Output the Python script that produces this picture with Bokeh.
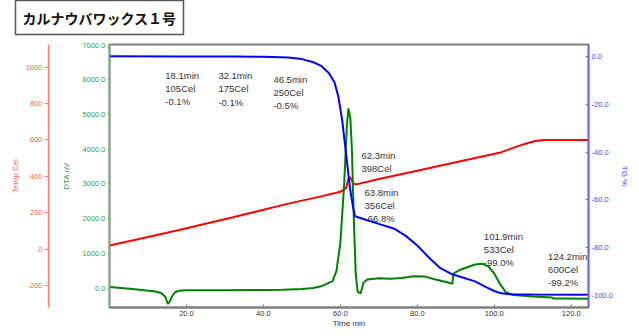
from bokeh.plotting import figure
from bokeh.models import LinearAxis, Range1d, FixedTicker, NumeralTickFormatter, Title
from bokeh.core.properties import value
from bokeh.embed import file_html
from bokeh.resources import INLINE

title_text = "カルナウバワックス１号"

# Temperature (Cel) vs time (min)
time_temp = [0, 10, 18.1, 32.1, 46.5, 55, 60, 61.5, 62.0, 62.3, 62.8, 63.3, 63.8, 65, 70, 80, 90, 101.9, 106, 109, 111, 113, 124.5]
temp_cel = [20, 67, 105, 175, 250, 290, 315, 335, 380, 398, 385, 365, 356, 360, 385, 431, 478, 533, 565, 585, 596, 600, 600]

# DTA (uV) vs time (min)
time_dta = [0, 3, 6, 9, 12, 13.5, 14.5, 15.2, 15.6, 16.2, 17, 18, 20, 30, 40, 45, 50, 53, 55, 57, 58, 59, 60, 61, 61.7, 62.1, 62.6, 63.0, 63.5, 64.0, 64.5, 65.3, 66, 67, 70, 73, 76, 79, 82, 85, 88, 89.1, 89.4, 91, 93, 95, 97, 98.5, 100, 101.5, 103, 105, 110, 115, 115.3, 119, 124.5]
dta_uv = [30, 0, -30, -60, -100, -150, -250, -460, -400, -250, -120, -80, -65, -60, -55, -50, -30, 0, 50, 150, 200, 500, 1300, 3000, 4700, 5180, 4900, 4000, 2000, 400, -100, -150, 150, 250, 280, 270, 290, 340, 330, 240, 160, 120, 420, 520, 600, 680, 700, 620, 420, 120, -120, -200, -240, -270, -300, -300, -305]

# TG (%) vs time (min)
time_tg = [0, 18.1, 32.1, 40, 46.5, 50, 53, 55, 57, 58.5, 59.5, 60.5, 61.5, 62.5, 63.3, 63.8, 67, 70, 74, 77, 80, 83, 86, 89, 92, 95, 98, 100, 101.9, 104, 110, 124.5]
tg_pct = [0, -0.1, -0.1, -0.2, -0.5, -1.2, -2.5, -4, -7, -11, -17, -27, -41, -55, -63, -66.8, -68.5, -70, -72, -75, -79, -84, -88.5, -91, -92.5, -94, -96.5, -98, -99.0, -99.4, -99.5, -99.6]

# Peak annotations
ann_time = [18.1, 32.1, 46.5, 62.3, 63.8, 101.9, 124.2]
ann_temp = [105, 175, 250, 398, 356, 533, 600]
ann_tg = [-0.1, -0.1, -0.5, None, -66.8, -99.0, -99.2]

x_ticks = [20, 40, 60, 80, 100, 120]
dta_ticks = [0, 1000, 2000, 3000, 4000, 5000, 6000, 7000]
temp_ticks = [-200, 0, 200, 400, 600, 800, 1000]
tg_ticks = [0, -20, -40, -60, -80, -100]

# label anchor positions (time, DTA units) - layout only
ann_pos_x = [14.5, 28.3, 42.6, 65.5, 66.3, 97.3, 114.0]
ann_pos_y = [6299, 6279, 6184, 3992, 2925, 1656, 1079]

texts = []
for t, T, g in zip(ann_time, ann_temp, ann_tg):
    s = f"{t:.1f}min\n{T}Cel"
    if g is not None:
        s += f"\n{g:.1f}%"
    texts.append(s)

FONT = "Liberation Sans"

p = figure(width=639, height=336, output_backend="svg", toolbar_location=None, title=None,
           x_range=Range1d(0, 124.5), y_range=Range1d(-560, 7020),
           min_border_left=109, min_border_right=51, min_border_top=44, min_border_bottom=29)
p.extra_y_ranges = {"temp": Range1d(-321, 1125), "tg": Range1d(-104.9, 4.9)}
p.xgrid.visible = False
p.ygrid.visible = False
p.outline_line_color = "#808080"
p.outline_line_width = 2
p.background_fill_color = "white"
p.border_fill_color = "white"

# x axis
xa = p.xaxis[0]
xa.ticker = FixedTicker(ticks=x_ticks)
xa.formatter = NumeralTickFormatter(format="0.0")
xa.axis_line_color = "#808080"
xa.axis_line_width = 2
xa.major_tick_in = 3
xa.major_tick_out = 0
xa.major_tick_line_color = "#808080"
xa.minor_tick_line_color = None
xa.major_label_text_color = "#333333"
xa.major_label_text_font = FONT
xa.major_label_text_font_size = "7.5px"
xa.major_label_standoff = 3
xa.axis_label = "Time min"
xa.axis_label_text_color = "#333333"
xa.axis_label_text_font = FONT
xa.axis_label_text_font_size = "8px"
xa.axis_label_text_font_style = "normal"
xa.axis_label_standoff = 0

# DTA axis
da = p.yaxis[0]
da.ticker = FixedTicker(ticks=dta_ticks)
da.formatter = NumeralTickFormatter(format="0.0")
da.axis_line_color = "#66bb66"
da.axis_line_width = 1.5
da.major_tick_in = 0
da.major_tick_out = 2
da.major_tick_line_color = "#66bb66"
da.minor_tick_line_color = None
da.major_label_text_color = "#339933"
da.major_label_text_font = FONT
da.major_label_text_font_size = "7.5px"
da.major_label_standoff = 2
da.axis_label = "DTA uV"
da.axis_label_text_color = "#339933"
da.axis_label_text_font = FONT
da.axis_label_text_font_size = "8px"
da.axis_label_text_font_style = "normal"
da.axis_label_standoff = 9

# spacer between DTA and Temp axes
spacer = LinearAxis(ticker=FixedTicker(ticks=[]), axis_line_color=None, major_tick_out=0,
                    major_tick_in=0, major_tick_line_color=None, minor_tick_out=0,
                    minor_tick_line_color=None, major_label_standoff=0,
                    axis_label="\u00a0", axis_label_text_font_size="2px", axis_label_standoff=5)
p.add_layout(spacer, "left")

# Temp axis
ta = LinearAxis(y_range_name="temp", ticker=FixedTicker(ticks=temp_ticks),
                formatter=NumeralTickFormatter(format="0"))
ta.axis_line_color = "#ff7777"
ta.axis_line_width = 1.5
ta.major_tick_in = 0
ta.major_tick_out = 4
ta.major_tick_line_color = "#ff7777"
ta.minor_tick_line_color = None
ta.major_label_text_color = "#ff5555"
ta.major_label_text_font = FONT
ta.major_label_text_font_size = "7.5px"
ta.major_label_standoff = 2
ta.axis_label = "Temp Cel"
ta.axis_label_text_color = "#ff5555"
ta.axis_label_text_font = FONT
ta.axis_label_text_font_size = "8px"
ta.axis_label_text_font_style = "normal"
ta.axis_label_standoff = 3
p.add_layout(ta, "left")

# TG axis
ga = LinearAxis(y_range_name="tg", ticker=FixedTicker(ticks=tg_ticks),
                formatter=NumeralTickFormatter(format="0.0"))
ga.axis_line_color = "#6666ff"
ga.axis_line_width = 1.5
ga.major_tick_in = 3
ga.major_tick_out = 0
ga.major_tick_line_color = "#6666ff"
ga.minor_tick_line_color = None
ga.major_label_text_color = "#4444ff"
ga.major_label_text_font = FONT
ga.major_label_text_font_size = "7.5px"
ga.major_label_standoff = 3
ga.axis_label = "TG %"
ga.axis_label_text_color = "#4444ff"
ga.axis_label_text_font = FONT
ga.axis_label_text_font_size = "8px"
ga.axis_label_text_font_style = "normal"
ga.axis_label_standoff = 4
p.add_layout(ga, "right")

# spacer above the frame (between frame and title)
top_spacer = LinearAxis(ticker=FixedTicker(ticks=[]), axis_line_color=None, major_tick_out=0,
                        major_tick_in=0, major_tick_line_color=None, minor_tick_out=0,
                        minor_tick_line_color=None, major_label_standoff=0,
                        axis_label="\u00a0", axis_label_text_font_size="2px", axis_label_standoff=3)
p.add_layout(top_spacer, "above")

# curves
p.line(time_temp, temp_cel, y_range_name="temp", line_color="#ff0000", line_width=2)
p.line(time_dta, dta_uv, line_color="#008000", line_width=2)
p.line(time_tg, tg_pct, y_range_name="tg", line_color="#0000ff", line_width=2)

p.text(x=ann_pos_x, y=ann_pos_y, text=texts, text_font=value(FONT), text_font_size="9.5px",
       text_color="#333333", text_align="left", text_baseline="top", text_line_height=1.2)

# title box
p.title = Title(text=title_text, align="left", offset=-94, standoff=0, vertical_align="top",
                text_font="Noto Sans CJK JP", text_font_size="14px", text_font_style="bold",
                text_color="#111111", background_fill_color="white",
                border_line_color="#555555", border_line_width=1.5, padding=7)

open("out.html", "w").write(file_html(p, INLINE))
